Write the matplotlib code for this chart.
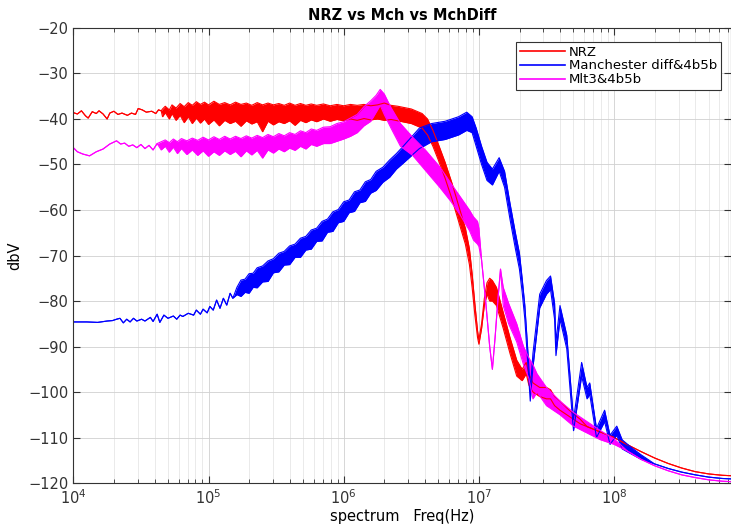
import numpy as np
import matplotlib
matplotlib.use("Agg")
import matplotlib.pyplot as plt
from matplotlib.lines import Line2D

# frequencies are given as log10(Hz); lo == hi where the trace is a thin line
nrz_exp = [4.00, 4.03, 4.06, 4.09, 4.11, 4.14, 4.17, 4.19, 4.22, 4.25, 4.27, 4.30, 4.33, 4.36,
           4.40, 4.43, 4.46, 4.48, 4.51, 4.54, 4.58, 4.61, 4.63, 4.65,
           4.66, 4.68, 4.71, 4.73, 4.76, 4.79, 4.82, 4.85, 4.88, 4.91, 4.94, 4.97, 5.00, 5.04,
           5.08, 5.12, 5.16, 5.20, 5.24, 5.28, 5.32, 5.36, 5.40, 5.44, 5.48, 5.52, 5.56, 5.60,
           5.64, 5.68, 5.72, 5.76, 5.80, 5.85, 5.90, 5.95, 6.00, 6.05, 6.10, 6.15, 6.20, 6.25,
           6.30, 6.35, 6.40, 6.45, 6.50,
           6.58, 6.62, 6.66, 6.70, 6.75, 6.80,
           6.85, 6.90, 6.93, 6.95, 6.97, 6.99, 7.00, 7.02, 7.04, 7.06, 7.08, 7.10, 7.13, 7.18,
           7.23, 7.28, 7.32, 7.35, 7.37, 7.40, 7.45, 7.50, 7.53, 7.56, 7.60, 7.65, 7.70, 7.75,
           7.80, 7.90, 8.00, 8.10, 8.20, 8.30, 8.40, 8.50, 8.60, 8.70, 8.80, 8.87]
nrz_lo = [-38.6, -38.9, -38.2, -39.3, -39.8, -38.4, -38.8, -38.2, -38.9, -40.0, -38.7, -38.3, -39.0, -38.7,
          -39.2, -38.7, -39.0, -37.7, -38.0, -38.5, -38.3, -38.8, -38.0, -38.2,
          -39.5, -38.6, -40.0, -38.8, -40.3, -39.2, -40.8, -39.5, -41.0, -39.8, -40.9, -40.0, -41.2, -40.2,
          -41.5, -40.3, -41.0, -40.5, -41.6, -40.4, -41.1, -40.6, -42.8, -40.5, -41.3, -40.6, -41.0, -40.4,
          -41.4, -40.3, -40.8, -40.2, -40.6, -40.0, -40.5, -40.1, -40.4, -40.0, -40.3, -39.9, -40.2, -40.0,
          -40.3, -40.1, -40.4, -40.7, -41.0,
          -42.0, -43.5, -46.0, -49.0, -53.0, -57.5,
          -62.5, -67.5, -72.0, -77.0, -83.0, -88.0, -89.5, -86.0, -81.0, -78.5, -80.0, -80.0, -81.0, -86.0,
          -91.5, -96.5, -97.5, -96.0, -98.5, -100.0, -101.0, -101.5, -101.5, -103.0, -104.0, -105.0, -106.0, -107.0,
          -107.6, -108.8, -110.0, -111.6, -113.1, -114.5, -115.7, -116.7, -117.5, -118.0, -118.3, -118.4]
nrz_hi = [-38.6, -38.9, -38.2, -39.3, -39.8, -38.4, -38.8, -38.2, -38.9, -40.0, -38.7, -38.3, -39.0, -38.7,
          -39.2, -38.7, -39.0, -37.7, -38.0, -38.5, -38.3, -38.8, -38.0, -38.2,
          -37.8, -37.2, -38.0, -36.9, -37.6, -36.6, -37.3, -36.4, -37.0, -36.2, -36.8, -36.3, -36.9, -36.1,
          -36.8, -36.4, -36.9, -36.3, -36.8, -36.5, -37.0, -36.4, -36.9, -36.5, -36.9, -36.6, -37.0, -36.5,
          -37.0, -36.6, -37.0, -36.7, -37.0, -36.7, -37.1, -36.8, -37.1, -36.8, -37.0, -36.8, -37.1, -36.9,
          -36.5, -37.0, -37.2, -37.5, -37.8,
          -38.8, -40.0, -42.5, -45.5, -49.5, -54.0,
          -59.0, -64.0, -68.5, -74.0, -80.5, -86.5, -88.5, -85.0, -79.5, -76.0, -75.0, -75.5, -77.0, -82.5,
          -88.0, -93.0, -95.0, -93.5, -96.0, -98.0, -99.0, -99.0, -99.5, -101.0, -102.0, -103.5, -104.8, -106.0,
          -107.6, -108.8, -110.0, -111.6, -113.1, -114.5, -115.7, -116.7, -117.5, -118.0, -118.3, -118.4]

mch_exp = [4.00, 4.10, 4.18, 4.25, 4.29, 4.32, 4.345, 4.37, 4.395, 4.42, 4.445, 4.47, 4.505, 4.53,
           4.57, 4.59, 4.62, 4.64, 4.67, 4.70, 4.74, 4.765, 4.79, 4.81, 4.85, 4.89, 4.91, 4.94,
           4.96, 4.99, 5.01, 5.035, 5.06, 5.085, 5.11, 5.135, 5.16, 5.18,
           5.21, 5.24, 5.27, 5.30, 5.33, 5.36, 5.40, 5.44, 5.48, 5.52, 5.56, 5.60, 5.64, 5.68,
           5.72, 5.76, 5.80, 5.84, 5.88, 5.92, 5.96, 6.00, 6.04, 6.08, 6.12, 6.16, 6.20, 6.24,
           6.29, 6.34, 6.39, 6.44,
           6.56, 6.65, 6.75,
           6.85, 6.91, 6.95, 6.98, 7.02, 7.06, 7.10, 7.15, 7.19, 7.23, 7.27, 7.30, 7.32, 7.34,
           7.36, 7.38, 7.40, 7.45, 7.50, 7.53, 7.56, 7.57, 7.60, 7.65, 7.70, 7.76, 7.80, 7.82,
           7.87, 7.93, 7.97, 8.02, 8.06, 8.12, 8.20,
           8.30, 8.40, 8.50, 8.60, 8.70, 8.80, 8.87]
mch_lo = [-84.6, -84.6, -84.7, -84.4, -84.3, -84.0, -83.8, -84.8, -84.0, -84.6, -83.8, -84.4, -84.0, -84.4,
          -83.6, -84.5, -82.9, -84.7, -83.1, -83.8, -83.3, -84.0, -83.1, -83.4, -82.7, -83.1, -82.0, -82.9,
          -81.8, -82.6, -81.2, -82.0, -79.8, -81.6, -79.4, -80.9, -78.3, -79.4,
          -78.6, -79.0, -78.1, -78.3, -77.0, -77.1, -75.8, -75.7, -73.8, -73.6, -72.1, -72.0, -70.4, -70.4,
          -68.8, -68.6, -66.9, -66.8, -64.9, -64.7, -62.8, -62.5, -60.6, -60.3, -58.4, -58.1, -56.3, -55.7,
          -53.9, -52.8, -51.0, -49.7,
          -46.5, -45.0, -44.5,
          -43.5, -42.5, -43.0, -46.0, -50.0, -53.5, -54.5, -51.5, -55.0, -62.0, -68.5, -73.0, -78.0, -84.0,
          -93.0, -102.0, -94.5, -81.5, -78.5, -77.5, -84.0, -92.0, -84.0, -90.5, -108.5, -96.5, -101.5, -100.5,
          -110.0, -106.5, -111.5, -109.5, -112.5, -113.5, -114.8,
          -115.8, -116.8, -117.6, -118.2, -118.7, -119.0, -119.1]
mch_hi = [-84.6, -84.6, -84.7, -84.4, -84.3, -84.0, -83.8, -84.8, -84.0, -84.6, -83.8, -84.4, -84.0, -84.4,
          -83.6, -84.5, -82.9, -84.7, -83.1, -83.8, -83.3, -84.0, -83.1, -83.4, -82.7, -83.1, -82.0, -82.9,
          -81.8, -82.6, -81.2, -82.0, -79.8, -81.6, -79.4, -80.9, -78.3, -79.4,
          -77.0, -75.4, -75.2, -74.0, -73.9, -72.7, -72.3, -71.2, -70.7, -69.5, -69.1, -67.9, -67.5, -66.2,
          -65.8, -64.4, -64.0, -62.5, -62.0, -60.4, -59.9, -58.2, -57.8, -56.0, -55.6, -53.8, -53.3, -51.5,
          -50.6, -49.0, -47.6, -46.0,
          -42.0, -41.0, -40.5,
          -39.5, -38.5, -39.5, -42.0, -46.0, -49.5, -51.0, -48.5, -51.5, -58.5, -65.0, -69.5, -75.0, -81.0,
          -90.0, -99.5, -91.5, -78.5, -75.5, -74.5, -80.5, -89.0, -81.0, -87.5, -106.0, -93.5, -99.0, -98.0,
          -108.0, -104.0, -109.5, -107.5, -110.5, -112.0, -113.8,
          -115.8, -116.8, -117.6, -118.2, -118.7, -119.0, -119.1]

mlt_exp = [4.00, 4.03, 4.07, 4.12, 4.17, 4.22, 4.27, 4.32, 4.35, 4.38, 4.41, 4.44, 4.47, 4.50,
           4.53, 4.56, 4.59, 4.62,
           4.65, 4.68, 4.71, 4.74, 4.77, 4.80, 4.84, 4.88, 4.92, 4.96, 5.00, 5.04, 5.08, 5.12,
           5.16, 5.20, 5.24, 5.28, 5.32, 5.36, 5.40, 5.44, 5.48, 5.52, 5.56, 5.60, 5.64, 5.68,
           5.72, 5.76, 5.80, 5.85, 5.90, 5.95, 6.00, 6.05, 6.10,
           6.15, 6.20, 6.24, 6.27, 6.30, 6.35, 6.42, 6.51, 6.61, 6.71, 6.79, 6.86, 6.93,
           6.96, 6.99, 7.00, 7.02, 7.05, 7.08, 7.10, 7.12, 7.14, 7.16,
           7.18, 7.22, 7.28, 7.33, 7.37, 7.40, 7.43, 7.50, 7.60, 7.70, 7.80, 7.90, 8.00,
           8.10, 8.20, 8.30, 8.40, 8.50, 8.60, 8.70, 8.80, 8.87]
mlt_lo = [-46.3, -47.2, -47.7, -48.1, -47.2, -46.6, -45.5, -44.8, -45.5, -45.3, -46.0, -45.7, -46.3, -45.6,
          -46.5, -45.8, -46.8, -45.4,
          -46.8, -46.0, -47.3, -46.2, -47.6, -46.5, -47.8, -46.8, -48.0, -47.0, -48.2, -47.2, -48.0, -47.0,
          -47.8, -47.1, -48.3, -47.0, -47.9, -46.9, -48.6, -46.8, -47.5, -46.6, -47.2, -46.4, -46.9, -46.0,
          -46.6, -45.6, -46.0, -45.4, -45.4, -44.9, -44.4, -43.8, -43.0,
          -41.5, -40.5, -38.5, -37.0, -39.0, -42.0, -46.0, -48.0, -51.5, -55.0, -58.0, -61.0, -64.5,
          -66.6, -67.5, -68.0, -71.0, -80.0, -90.0, -95.0, -88.0, -80.0, -73.0,
          -81.0, -85.0, -89.0, -94.0, -97.0, -101.5, -100.0, -103.0, -105.0, -107.5, -109.0, -110.5, -111.5,
          -113.0, -114.8, -116.2, -117.3, -118.2, -118.8, -119.3, -119.6, -119.7]
mlt_hi = [-46.3, -47.2, -47.7, -48.1, -47.2, -46.6, -45.5, -44.8, -45.5, -45.3, -46.0, -45.7, -46.3, -45.6,
          -46.5, -45.8, -46.8, -45.4,
          -45.0, -44.6, -45.2, -44.4, -45.0, -44.3, -44.8, -44.2, -44.7, -44.0, -44.6, -43.9, -44.5, -43.8,
          -44.4, -43.8, -44.3, -43.7, -44.2, -43.6, -44.1, -43.4, -43.9, -43.2, -43.7, -43.0, -43.4, -42.6,
          -43.0, -42.2, -42.5, -41.8, -41.7, -41.0, -40.6, -39.8, -39.0,
          -37.3, -36.0, -34.8, -33.5, -34.5, -37.5, -41.0, -44.0, -47.0, -50.5, -54.0, -57.0, -60.0,
          -61.5, -62.5, -64.0, -71.0, -80.0, -90.0, -95.0, -88.0, -80.0, -73.0,
          -77.0, -80.5, -85.0, -90.0, -92.5, -94.0, -96.0, -99.0, -102.0, -104.5, -106.5, -108.5, -110.3,
          -113.0, -114.8, -116.2, -117.3, -118.2, -118.8, -119.3, -119.6, -119.7]

names = ["NRZ", "Manchester diff&4b5b", "Mlt3&4b5b"]
colors = ["#ff0000", "#0000ff", "#ff00ff"]

fig = plt.figure(figsize=(7.31, 5.26), dpi=100)
ax = fig.add_axes([0.1003, 0.0817, 0.8997, 0.8651])

series = [(nrz_exp, nrz_lo, nrz_hi), (mch_exp, mch_lo, mch_hi), (mlt_exp, mlt_lo, mlt_hi)]
for (e, lo, hi), c in zip(series, colors):
    f = np.power(10.0, e)
    ax.fill_between(f, lo, hi, color=c, lw=0)
    ax.plot(f, lo, color=c, lw=0.8)
    ax.plot(f, hi, color=c, lw=0.8)

ax.set_xscale("log")
ax.set_xlim(1e4, 10 ** 8.865)
ax.set_ylim(-120, -20)
ax.set_yticks(np.arange(-120, -19, 10))

ax.grid(True, which="major", color="#d0d0d0", lw=0.6)
ax.grid(True, which="minor", axis="x", color="#e6e6e6", lw=0.6)
ax.set_axisbelow(True)
ax.tick_params(which="both", direction="in", top=True, right=True, colors="#333333",
               labelsize=10.5, labelcolor="#333333")
ax.tick_params(which="major", length=5)
ax.tick_params(which="minor", length=3)
for s in ax.spines.values():
    s.set_color("#333333")
    s.set_linewidth(0.8)

ax.set_title("NRZ vs Mch vs MchDiff", fontsize=10.5, fontweight="bold", pad=6)
ax.set_xlabel("spectrum   Freq(Hz)", fontsize=10.5, labelpad=2)
ax.set_ylabel("dbV", fontsize=10.5)

handles = [Line2D([], [], color=c, lw=1.2) for c in colors]
leg = ax.legend(handles, names, loc="upper right", bbox_to_anchor=(0.995, 0.984),
                fontsize=9.5, handlelength=3.4, handletextpad=0.3, labelspacing=0.05,
                borderpad=0.3, fancybox=False, framealpha=1, edgecolor="#333333")
leg.get_frame().set_linewidth(0.8)

fig.savefig("out.png", dpi=100)
